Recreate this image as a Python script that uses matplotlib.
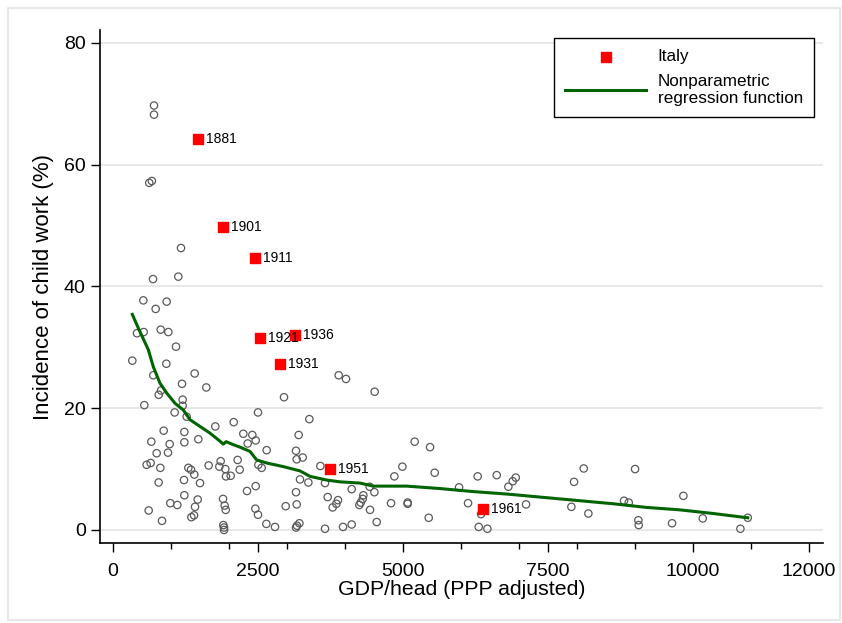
import matplotlib.pyplot as plt
from matplotlib.patches import Rectangle
from matplotlib.ticker import MultipleLocator

plt.rcParams['font.family'] = ['Liberation Sans', 'DejaVu Sans']

# other countries: GDP/head and incidence of child work (%)
gdp = [707, 707, 625, 670,
       1172, 690, 1126, 523, 736, 925, 414, 529, 822, 954, 1086, 333,
       920, 695, 1408, 1190, 1609, 828, 788, 1201, 540, 1201, 1063, 1270,
       2948, 2500, 2081, 3385, 3891, 4017, 1764, 874, 1230, 661, 977, 1230,
       1471, 2247, 2402, 2460, 2322, 3201, 753, 948, 580, 649, 816, 1299,
       1345, 1402, 1649, 1856, 1833, 1937, 1948, 2029, 2149, 2184, 2649,
       2506, 2563, 3155, 3270, 3167, 3575, 3224, 3368, 787, 1224, 1500,
       2310, 2460, 1230, 988, 1109, 1460, 1414, 1397, 1351, 615, 845, 1897,
       1925, 1943, 1902, 1914, 1914, 2454, 2500, 2977, 3167, 3155, 2644,
       2793, 3213, 3155, 3172, 3655, 3701, 3879, 3851, 3787, 4115, 4247,
       3966, 4115, 3655,
       4511, 5201, 5466, 4989, 4851, 5546, 4425, 4506, 4316, 4305, 4270,
       4431, 4546, 4793, 5080, 5080, 5443, 5966, 6121, 6287, 6615, 6943,
       6891, 6816, 7121, 6345, 6305, 6454, 7948, 8115, 7902, 8195,
       9000, 8810, 8891, 9057, 9063, 9833, 9638, 10167, 10816, 10943]
child = [69.7, 68.2, 57.0, 57.3,
         46.3, 41.2, 41.6, 37.7, 36.3, 37.5, 32.3, 32.5, 32.9, 32.5, 30.1, 27.8,
         27.3, 25.4, 25.7, 24.0, 23.4, 22.9, 22.2, 21.4, 20.5, 20.4, 19.3, 18.6,
         21.8, 19.3, 17.7, 18.2, 25.4, 24.8, 17.0, 16.3, 16.1, 14.5, 14.1, 14.4,
         14.9, 15.8, 15.6, 14.7, 14.2, 15.6, 12.6, 12.7, 10.7, 11.0, 10.2, 10.2,
         9.9, 9.1, 10.6, 11.3, 10.4, 10.0, 8.8, 8.9, 11.5, 9.9, 13.1,
         10.7, 10.2, 13.0, 11.9, 11.6, 10.5, 8.3, 7.8, 7.8, 8.2, 7.7,
         6.4, 7.2, 5.7, 4.4, 4.1, 5.0, 3.8, 2.4, 2.1, 3.2, 1.5, 5.1,
         4.0, 3.3, 0.8, 0.4, 0.0, 3.5, 2.5, 3.9, 4.2, 6.2, 1.0,
         0.5, 1.1, 0.4, 0.7, 0.2, 5.4, 4.9, 4.3, 3.7, 6.7, 4.1,
         0.5, 0.9, 7.7,
         22.7, 14.5, 13.6, 10.4, 8.8, 9.4, 7.1, 6.2, 5.7, 5.1, 4.5,
         3.3, 1.3, 4.4, 4.5, 4.3, 2.0, 7.0, 4.4, 8.8, 9.0, 8.6,
         8.0, 7.1, 4.2, 2.6, 0.5, 0.2, 7.9, 10.1, 3.8, 2.7,
         10.0, 4.8, 4.5, 1.6, 0.8, 5.6, 1.1, 1.9, 0.2, 2.0]

# Italy
italy_years = ['1881', '1901', '1911', '1921', '1931', '1936', '1951', '1961']
italy_gdp = [1466, 1897, 2448, 2534, 2879, 3138, 3741, 6379]
italy_child = [64.2, 49.8, 44.7, 31.5, 27.3, 32.0, 10.0, 3.4]

# nonparametric regression fit
fit_gdp = [333, 448, 609, 695, 810, 925, 1069, 1212, 1328, 1500, 1672, 1816,
           1902, 1950, 2075, 2190, 2362, 2477, 2649, 2937, 3224, 3397, 3684,
           3914, 4259, 4488, 5063, 5638, 6213, 6788, 7362, 7937, 8397, 8626,
           9201, 9776, 10351, 10943]
fit_child = [35.4, 32.9, 29.6, 26.8, 24.1, 22.5, 20.8, 19.7, 18.1, 17.0, 15.9,
             14.8, 14.1, 14.5, 14.0, 13.6, 12.9, 11.5, 11.0, 10.4, 9.7, 8.8, 8.2,
             7.9, 7.7, 7.2, 7.2, 6.8, 6.3, 5.9, 5.4, 4.9, 4.5, 4.3,
             3.7, 3.3, 2.7, 2.0]

fig = plt.figure(figsize=(8.42, 6.23), dpi=100)
fig.patches.append(Rectangle((8 / 842, 3 / 623), 832 / 842, 612 / 623,
                             transform=fig.transFigure, fill=False,
                             edgecolor='#e8e8e8', lw=1.5))
ax = fig.add_axes([100 / 842, 80 / 623, 723 / 842, 513 / 623])

ax.scatter(gdp, child, s=28, facecolors='none', edgecolors='#5a5a5a',
           linewidths=0.9, zorder=2)
ax.plot(fit_gdp, fit_child, color='#006400', lw=2.2, zorder=3,
        label='Nonparametric\nregression function')
ax.scatter(italy_gdp, italy_child, marker='s', s=50, color='red',
           zorder=4, label='Italy')
for x, y, t in zip(italy_gdp, italy_child, italy_years):
    ax.annotate(t, (x, y), xytext=(6, 0), textcoords='offset points',
                va='center', ha='left', fontsize=10, zorder=5)

ax.set_xlim(-224, 12240)
ax.set_ylim(-2.14, 82.1)
ax.set_xticks([0, 2500, 5000, 7500, 10000, 12000])
ax.xaxis.set_minor_locator(MultipleLocator(1000))
ax.set_yticks([0, 20, 40, 60, 80])
ax.tick_params(axis='both', which='major', labelsize=14, length=6.8,
               width=1, color='black')
ax.tick_params(axis='x', which='major', pad=7.5)
ax.tick_params(axis='x', which='minor', length=4.5, width=1)
ax.grid(axis='y', color='#e6e6e6', lw=1.3, zorder=0)
ax.set_axisbelow(True)
for s in ['top', 'right']:
    ax.spines[s].set_visible(False)
for s in ['left', 'bottom']:
    ax.spines[s].set_linewidth(1.2)

ax.set_xlabel('GDP/head (PPP adjusted)', fontsize=15.3, labelpad=0)
ax.set_ylabel('Incidence of child work (%)', fontsize=16, labelpad=7)

handles, labels = ax.get_legend_handles_labels()
leg = ax.legend(handles[::-1], labels[::-1], loc='upper right',
                bbox_to_anchor=(0.9876, 0.9844), borderaxespad=0,
                fontsize=12.3, handlelength=4.7, handletextpad=0.7,
                borderpad=0.65, labelspacing=0.55, frameon=True,
                fancybox=False, edgecolor='black', framealpha=1)
leg.get_frame().set_linewidth(1)

fig.savefig('out.png', dpi=100)
